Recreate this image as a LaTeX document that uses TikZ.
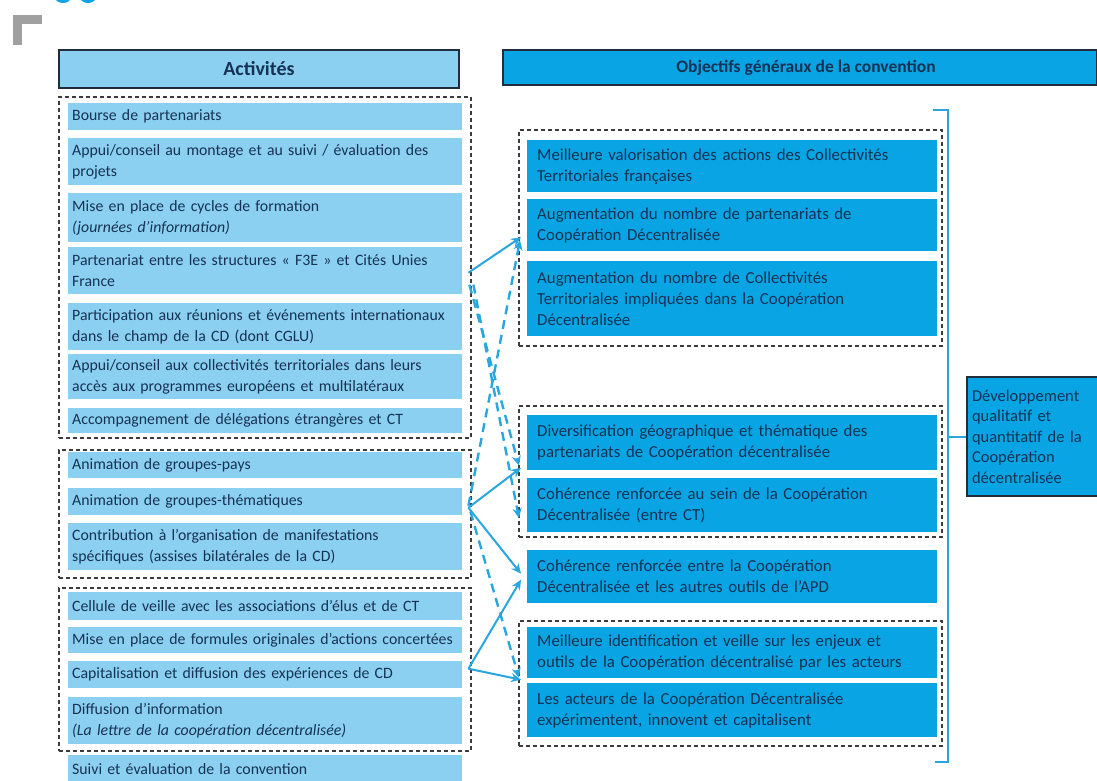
\documentclass[tikz,border=0pt]{standalone}
\usepackage{fontspec}
\setmainfont{Carlito}
\usetikzlibrary{arrows.meta}
\definecolor{lblue}{HTML}{8BD0F1}
\definecolor{bblue}{HTML}{08A4E3}
\definecolor{navy}{HTML}{163254}
\definecolor{hborder}{HTML}{1F2D3D}
\definecolor{dgray}{HTML}{3C3C3C}
\definecolor{acol}{HTML}{2AA6DF}
\definecolor{lgray}{HTML}{A0A0A0}
\tikzset{
  litem/.style={fill=lblue, anchor=north west, minimum width=394pt, text width=386pt,
    inner xsep=4pt, inner ysep=0pt, align=left, text=navy, font=\fontsize{15.8}{20.5}\selectfont},
  ritem/.style={fill=bblue, anchor=north west, minimum width=410pt, text width=390pt,
    inner xsep=10pt, inner ysep=0pt, align=left, text=navy, font=\fontsize{16.8}{21}\selectfont},
  grp/.style={draw=dgray, line width=1.6pt, dash pattern=on 4pt off 3pt, anchor=north west, inner sep=0pt},
  hdr/.style={draw=hborder, line width=2pt, anchor=north west, inner sep=0pt, text=navy},
  arr/.style={draw=acol, line width=2pt, -{Stealth[length=10pt,width=9pt]}},
  darr/.style={arr, line width=2.4pt, dash pattern=on 9pt off 6pt},
  brk/.style={draw=acol, line width=2pt},
}
\begin{document}
\begin{tikzpicture}[x=1pt,y=-1pt]
\useasboundingbox (0,0) rectangle (1097,780);
% corner mark
\fill[lgray] (13,15) rectangle (42,24);
\fill[lgray] (13,15) rectangle (22,45);
% cut-off fragments at top
\fill[bblue] (63,-3) ellipse (8 and 6);
\fill[bblue] (88,-3) ellipse (8 and 6);

% headers
\node[hdr, fill=lblue, minimum width=400pt, minimum height=38pt, font=\fontsize{20}{22}\bfseries] (hact) at (58,49) {Activités};
\node[hdr, fill=bblue, minimum width=594pt, minimum height=35pt, font=\fontsize{17.5}{19}\bfseries] (hobj) at (502,49) {\hspace*{12pt}Objectifs généraux de la convention};

% activity groups
\node[grp, minimum width=412pt, minimum height=341pt] (g1) at (58,96) {};
\node[grp, minimum width=412pt, minimum height=128pt] (g2) at (58,449) {};
\node[grp, minimum width=412pt, minimum height=163pt] (g3) at (58,587) {};

\node[litem, minimum height=27pt] (bourse) at (68,103) {Bourse de partenariats};
\node[litem, minimum height=47pt] (appui1) at (68,138) {Appui/conseil au montage et au suivi / évaluation des\\projets};
\node[litem, minimum height=49pt] (mise1) at (68,193) {Mise en place de cycles de formation\\\textit{(journées d’information)}};
\node[litem, minimum height=47pt] (part) at (68,247) {Partenariat entre les structures « F3E » et Cités Unies\\France};
\node[litem, minimum height=47pt] (partic) at (68,303) {Participation aux réunions et événements internationaux\\dans le champ de la CD (dont CGLU)};
\node[litem, minimum height=45pt] (appui2) at (68,354) {Appui/conseil aux collectivités territoriales dans leurs\\accès aux programmes européens et multilatéraux};
\node[litem, minimum height=25pt] (accomp) at (68,408) {Accompagnement de délégations étrangères et CT};

\node[litem, minimum height=26pt] (pays) at (68,452) {Animation de groupes-pays};
\node[litem, minimum height=27pt] (them) at (68,488) {Animation de groupes-thématiques};
\node[litem, minimum height=47pt] (contrib) at (68,523) {Contribution à l’organisation de manifestations\\spécifiques (assises bilatérales de la CD)};

\node[litem, minimum height=28pt] (cellule) at (68,592) {Cellule de veille avec les associations d’élus et de CT};
\node[litem, minimum height=26pt] (formules) at (68,627) {Mise en place de formules originales d’actions concertées};
\node[litem, minimum height=27pt] (capit) at (68,661) {Capitalisation et diffusion des expériences de CD};
\node[litem, minimum height=47pt] (diffu) at (68,697) {Diffusion d’information\\\textit{(La lettre de la coopération décentralisée)}};
\node[litem, minimum height=27pt] (suivi) at (68,755) {Suivi et évaluation de la convention};

% objective groups
\node[grp, minimum width=423pt, minimum height=216pt] (og1) at (518,129) {};
\node[grp, minimum width=423pt, minimum height=131pt] (og2) at (518,405) {};
\node[grp, minimum width=423pt, minimum height=125pt] (og3) at (518,620) {};

\node[ritem, minimum height=52pt] (o1) at (527,140) {Meilleure valorisation des actions des Collectivités\\Territoriales françaises};
\node[ritem, minimum height=52pt] (o2) at (527,199) {Augmentation du nombre de partenariats de\\Coopération Décentralisée};
\node[ritem, minimum height=75pt] (o3) at (527,261) {Augmentation du nombre de Collectivités\\Territoriales impliquées dans la Coopération\\Décentralisée};
\node[ritem, minimum height=55pt] (o4) at (527,415) {Diversification géographique et thématique des\\partenariats de Coopération décentralisée};
\node[ritem, minimum height=54pt] (o5) at (527,478) {Cohérence renforcée au sein de la Coopération\\Décentralisée (entre CT)};
\node[ritem, minimum height=53pt] (o6) at (527,550) {Cohérence renforcée entre la Coopération\\Décentralisée et les autres outils de l’APD};
\node[ritem, minimum height=51pt] (o7) at (527,627) {Meilleure identification et veille sur les enjeux et\\outils de la Coopération décentralisé par les acteurs};
\node[ritem, minimum height=54pt] (o8) at (527,683) {Les acteurs de la Coopération Décentralisée\\expérimentent, innovent et capitalisent};

% development box
\node[hdr, fill=bblue, minimum width=133pt, minimum height=119pt, text width=125pt, inner xsep=5pt, align=left,
  font=\fontsize{16.5}{20.5}\selectfont] (dev) at (966,376) {Développement\\qualitatif et\\quantitatif de la\\Coopération\\décentralisée};

% bracket
\coordinate (btop) at (933,110);
\coordinate (bbot) at (935,762);
\draw[brk] (btop) -- (948,110) -- (948,762) -- (bbot);
\draw[brk] (948,437) -- (dev.west |- 948,437);

% arrows
\draw[arr] ([xshift=6pt,yshift=-2pt]part.east) -- ([xshift=-6pt,yshift=-12pt]o2.west);
\draw[darr] ([xshift=7pt,yshift=-14pt]part.east) -- ([xshift=-8pt,yshift=-23pt]o4.west);
\draw[darr] ([xshift=11pt,yshift=-14pt]part.east) -- ([xshift=-8pt,yshift=-13pt]o5.west);
\draw[darr] ([xshift=6pt,yshift=-4pt]them.east) -- ([xshift=-7pt,yshift=-15pt]o2.west);
\draw[arr] ([xshift=6pt,yshift=-6pt]them.east) -- ([xshift=-6pt,yshift=-25pt]o4.west);
\draw[arr] ([xshift=6pt,yshift=-6pt]them.east) -- ([xshift=-6pt,yshift=3pt]o6.west);
\draw[darr] ([xshift=8pt,yshift=-10pt]them.east) -- ([xshift=-8pt,yshift=-25pt]o7.west);
\draw[arr] ([xshift=6pt,yshift=6pt]capit.east) -- ([xshift=-6pt,yshift=-3pt]o6.west);
\draw[arr] ([xshift=6pt,yshift=6pt]capit.east) -- ([xshift=-6pt,yshift=-27pt]o7.west);
\end{tikzpicture}
\end{document}
